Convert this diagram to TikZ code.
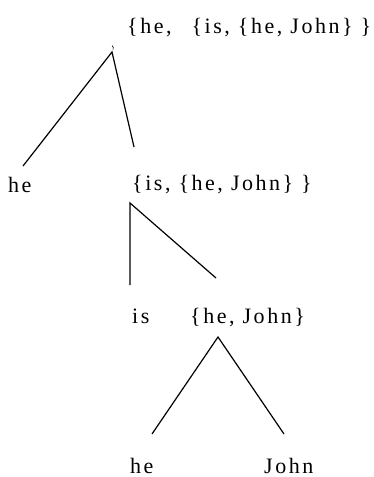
\documentclass[tikz,border=0pt]{standalone}
\usepackage{fontspec}
\setmainfont[LetterSpace=11.5]{Liberation Serif}
\begin{document}
\begin{tikzpicture}[x=1pt,y=-1pt,
  lbl/.style={anchor=base west,inner sep=0pt,font=\fontsize{22}{26}\selectfont},
  edge/.style={line width=1.2pt}]
\useasboundingbox (0,0) rectangle (373,477);
% labels
\node[lbl] (top) at (127,33) {\{he,\hspace{20pt}\{is, \{he, John\}\hspace{8pt}\}};
\node[lbl] (he1) at (8,192) {he};
\node[lbl] (mid) at (132,190) {\{is, \{he, John\}\hspace{8pt}\}};
\node[lbl] (is) at (132,323) {is};
\node[lbl] (low) at (190,323) {\{he, John\}};
\node[lbl] (he2) at (130,473) {he};
\node[lbl] (john) at (264,473) {John};
% branch points
\coordinate (a1) at (112,52);
\coordinate (a1l) at (23,166);
\coordinate (a1r) at (134,147);
\coordinate (a2) at (130,203);
\coordinate (a2l) at (130,285);
\coordinate (a2r) at (216,278);
\coordinate (a3) at (218,337);
\coordinate (a3l) at (152,434);
\coordinate (a3r) at (284,434);
\coordinate (t1) at (112,45.5);
\coordinate (t2) at (113,49.5);
% edges
\draw[edge] (a1l) -- (a1) -- (a1r);
\draw[edge] (a2l) -- (a2) -- (a2r);
\draw[edge] (a3l) -- (a3) -- (a3r);
\draw[line width=0.6pt] (t1) to[bend left=40] (t2);
\end{tikzpicture}
\end{document}
